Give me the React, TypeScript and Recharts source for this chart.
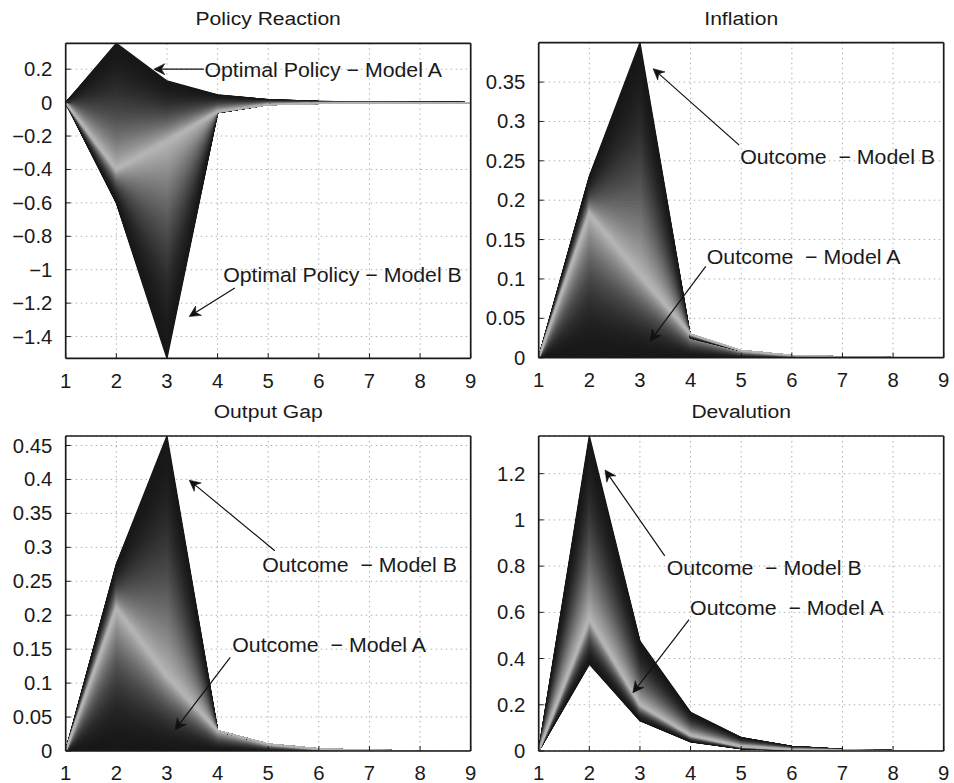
import React from 'react';
import {
  ComposedChart,
  Area,
  XAxis,
  YAxis,
  CartesianGrid,
  ReferenceLine,
  ReferenceDot,
} from 'recharts';

// ---------------------------------------------------------------------------
// Data: horizons and, for every panel, the model A path, the pale middle path
// of the fan and the model B path.
// ---------------------------------------------------------------------------
const periods = [1, 2, 3, 4, 5, 6, 7, 8, 9];

const policyModelA = [0, 0.355, 0.13, 0.046, 0.018, 0.007, 0.003, 0.001, 0];
const policyMiddle = [0, -0.4, -0.23, -0.055, -0.012, -0.004, -0.001, 0, 0];
const policyModelB = [0, -0.6, -1.53, -0.06, -0.012, -0.004, -0.001, 0, 0];
const policyTicks = [-1.4, -1.2, -1, -0.8, -0.6, -0.4, -0.2, 0, 0.2];
const policyRange = [-1.53, 0.355];

const inflationModelA = [0, 0, 0, 0, 0, 0, 0, 0, 0];
const inflationMiddle = [0, 0.183, 0.105, 0.03, 0.009, 0.003, 0.001, 0, 0];
const inflationModelB = [0, 0.23, 0.4, 0.025, 0.009, 0.003, 0.001, 0, 0];
const inflationTicks = [0, 0.05, 0.1, 0.15, 0.2, 0.25, 0.3, 0.35];
const inflationRange = [0, 0.4];

const outputModelA = [0, 0, 0, 0, 0, 0, 0, 0, 0];
const outputMiddle = [0, 0.21, 0.11, 0.03, 0.01, 0.003, 0.001, 0, 0];
const outputModelB = [0, 0.275, 0.464, 0.03, 0.01, 0.003, 0.001, 0, 0];
const outputTicks = [0, 0.05, 0.1, 0.15, 0.2, 0.25, 0.3, 0.35, 0.4, 0.45];
const outputRange = [0, 0.464];

const devalModelA = [0, 0.376, 0.131, 0.04, 0.01, 0.003, 0.001, 0, 0];
const devalMiddle = [0, 0.57, 0.2, 0.068, 0.02, 0.006, 0.002, 0, 0];
const devalModelB = [0, 1.363, 0.475, 0.167, 0.058, 0.02, 0.007, 0.002, 0];
const devalTicks = [0, 0.2, 0.4, 0.6, 0.8, 1, 1.2];
const devalRange = [0, 1.363];

// Arrow annotations: label anchor (left edge, vertical centre), arrow tail, arrow tip
type Note = { text: string; tx: number; ty: number; ax: number; ay: number; hx: number; hy: number };

const policyNotes: Note[] = [
  { text: 'Optimal Policy − Model A', tx: 3.74, ty: 0.2, ax: 3.73, ay: 0.2, hx: 2.74, hy: 0.2 },
  { text: 'Optimal Policy − Model B', tx: 4.11, ty: -1.032, ax: 4.34, ay: -1.11, hx: 3.44, hy: -1.28 },
];
const inflationNotes: Note[] = [
  { text: 'Outcome  − Model B', tx: 4.98, ty: 0.255, ax: 4.96, ay: 0.27, hx: 3.26, hy: 0.367 },
  { text: 'Outcome  − Model A', tx: 4.32, ty: 0.128, ax: 4.3, ay: 0.116, hx: 3.2, hy: 0.021 },
];
const outputNotes: Note[] = [
  { text: 'Outcome  − Model B', tx: 4.88, ty: 0.275, ax: 5.13, ay: 0.295, hx: 3.44, hy: 0.399 },
  { text: 'Outcome  − Model A', tx: 4.29, ty: 0.156, ax: 4.25, ay: 0.138, hx: 3.16, hy: 0.031 },
];
const devalNotes: Note[] = [
  { text: 'Outcome  − Model B', tx: 3.53, ty: 0.792, ax: 3.49, ay: 0.844, hx: 2.31, hy: 1.216 },
  { text: 'Outcome  − Model A', tx: 3.99, ty: 0.62, ax: 3.97, ay: 0.568, hx: 2.86, hy: 0.252 },
];

// ---------------------------------------------------------------------------
// Styling
// ---------------------------------------------------------------------------
const FONT = '"Liberation Sans", Arial, Helvetica, sans-serif';
const INK = '#1a1a1a';
const TICK_FS = 19.5;
const TICK_STRETCH = 1.04;
const NOTE_FS = 20.5;
const NOTE_STRETCH = 1.04;
const TITLE_FS = 19;
const TITLE_STRETCH = 1.11;

const SHADES = 60; // shading steps on each side of the pale middle path
const DARK = 24;
const LIGHT = 182;
const GAMMA = 2;

const fmt = (v: number) => (v < 0 ? '−' + String(Math.abs(v)) : String(v));

function grey(level: number) {
  const g = Math.round(level);
  return `rgb(${g},${g},${g})`;
}

// Builds the chart rows and the list of shaded bands of the fan
function buildFan(a: number[], m: number[], b: number[]) {
  const rows: Record<string, any>[] = periods.map((x) => ({ x }));
  const bands: { key: string; color: string }[] = [];
  const halves = [
    { from: a, to: m, name: 'a' },
    { from: b, to: m, name: 'b' },
  ];
  halves.forEach((h) => {
    for (let k = 0; k < SHADES; k++) {
      const key = `${h.name}${k}`;
      const t0 = k / SHADES;
      const t1 = (k + 1) / SHADES;
      periods.forEach((_, i) => {
        const lo = h.from[i] + (h.to[i] - h.from[i]) * t0;
        const hi = h.from[i] + (h.to[i] - h.from[i]) * t1;
        rows[i][key] = [lo, hi];
      });
      const s = (k + 0.5) / SHADES; // 0 at outer edge, 1 at pale middle
      bands.push({ key, color: grey(DARK + (LIGHT - DARK) * Math.pow(s, GAMMA)) });
    }
  });
  return { rows, bands };
}

function StretchText({ x, y, text, size, stretch, anchor, dy }: any) {
  return (
    <g transform={`translate(${x},${y}) scale(${stretch},1)`}>
      <text
        x={0}
        y={0}
        dy={dy}
        textAnchor={anchor}
        fontFamily={FONT}
        fontSize={size}
        fill={INK}
        style={{ whiteSpace: 'pre' }}
      >
        {text}
      </text>
    </g>
  );
}

const XTick = (props: any) => (
  <StretchText x={props.x} y={props.y} text={String(props.payload.value)} size={TICK_FS} stretch={TICK_STRETCH} anchor="middle" dy="0.71em" />
);
const YTick = (props: any) => (
  <StretchText x={props.x} y={props.y} text={fmt(props.payload.value)} size={TICK_FS} stretch={TICK_STRETCH} anchor="end" dy="0.36em" />
);

function Arrow(props: any) {
  const { x1, y1, x2, y2 } = props;
  const dx = x2 - x1;
  const dy = y2 - y1;
  const len = Math.sqrt(dx * dx + dy * dy) || 1;
  const ux = dx / len;
  const uy = dy / len;
  const nx = -uy;
  const ny = ux;
  const L = 11;
  const HW = 5.5;
  const notch = 3.5;
  const bx = x2 - ux * L;
  const by = y2 - uy * L;
  const cx = x2 - ux * (L - notch);
  const cy = y2 - uy * (L - notch);
  const pts = `${x2},${y2} ${bx + nx * HW},${by + ny * HW} ${cx},${cy} ${bx - nx * HW},${by - ny * HW}`;
  return (
    <g>
      <line x1={x1} y1={y1} x2={cx} y2={cy} stroke="#111" strokeWidth={1.2} />
      <polygon points={pts} fill="#111" stroke="#111" strokeWidth={0.6} />
    </g>
  );
}

const W = 477;
const H = 392;
const PW = 405;
const PH = 315;
const Y_AXIS_W = 50;
const X_AXIS_H = 30;

function FanPanel({ left, top, plotLeft, plotTop, a, m, b, yTicks, yRange, notes }: any) {
  const { rows, bands } = buildFan(a, m, b);
  const margin = {
    left: plotLeft - Y_AXIS_W,
    top: plotTop - 1,
    right: W - plotLeft - PW - 1,
    bottom: H - plotTop - PH - X_AXIS_H,
  };
  const axisLine = { stroke: INK, strokeWidth: 1.7 };
  const tickLine = { stroke: INK, strokeWidth: 1 };
  return (
    <div style={{ position: 'absolute', left, top, width: W, height: H }}>
      <ComposedChart width={W} height={H} data={rows} margin={margin}>
        <CartesianGrid xAxisId="bottom" yAxisId="left" stroke="#b0b0b0" strokeWidth={1} strokeDasharray="1.5 3.5" />
        {bands.map((bd) => (
          <Area
            key={bd.key}
            xAxisId="bottom"
            yAxisId="left"
            type="linear"
            dataKey={bd.key}
            fill={bd.color}
            fillOpacity={1}
            stroke={bd.color}
            strokeWidth={1.3}
            dot={false}
            activeDot={false}
            isAnimationActive={false}
          />
        ))}
        <XAxis
          xAxisId="bottom"
          dataKey="x"
          type="number"
          domain={[1, 9]}
          ticks={periods}
          allowDataOverflow
          height={X_AXIS_H}
          axisLine={axisLine}
          tickLine={tickLine}
          tickSize={-5}
          tickMargin={20.5}
          tick={XTick}
          interval={0}
        />
        <XAxis
          xAxisId="top"
          orientation="top"
          dataKey="x"
          type="number"
          domain={[1, 9]}
          ticks={periods}
          allowDataOverflow
          height={1}
          axisLine={axisLine}
          tickLine={tickLine}
          tickSize={-5}
          tick={false}
          interval={0}
        />
        <YAxis
          yAxisId="left"
          type="number"
          domain={yRange}
          ticks={yTicks}
          allowDataOverflow
          width={Y_AXIS_W}
          axisLine={axisLine}
          tickLine={tickLine}
          tickSize={-5}
          tickMargin={18.4}
          tick={YTick}
          interval={0}
        />
        <YAxis
          yAxisId="right"
          orientation="right"
          type="number"
          domain={yRange}
          ticks={yTicks}
          allowDataOverflow
          width={1}
          axisLine={axisLine}
          tickLine={tickLine}
          tickSize={-5}
          tick={false}
          interval={0}
        />
        {notes.map((n: Note, i: number) => (
          <ReferenceLine
            key={`arrow${i}`}
            xAxisId="bottom"
            yAxisId="left"
            segment={[
              { x: n.ax, y: n.ay },
              { x: n.hx, y: n.hy },
            ]}
            shape={Arrow}
          />
        ))}
        {notes.map((n: Note, i: number) => (
          <ReferenceDot
            key={`note${i}`}
            xAxisId="bottom"
            yAxisId="left"
            x={n.tx}
            y={n.ty}
            r={0}
            shape={(p: any) => (
              <StretchText x={p.cx} y={p.cy} text={n.text} size={NOTE_FS} stretch={NOTE_STRETCH} anchor="start" dy="0.36em" />
            )}
          />
        ))}
      </ComposedChart>
    </div>
  );
}

const titles = [
  { text: 'Policy Reaction', x: 268.2, y: 25 },
  { text: 'Inflation', x: 741.2, y: 25 },
  { text: 'Output Gap', x: 268.2, y: 418 },
  { text: 'Devalution', x: 741.2, y: 418 },
];

export default function App() {
  return (
    <div style={{ position: 'absolute', left: 0, top: 0, width: 954, height: 783, background: '#fff', overflow: 'hidden' }}>
      <FanPanel left={0} top={0} plotLeft={65.7} plotTop={43.3} a={policyModelA} m={policyMiddle} b={policyModelB} yTicks={policyTicks} yRange={policyRange} notes={policyNotes} />
      <FanPanel left={477} top={0} plotLeft={61.7} plotTop={42.7} a={inflationModelA} m={inflationMiddle} b={inflationModelB} yTicks={inflationTicks} yRange={inflationRange} notes={inflationNotes} />
      <FanPanel left={0} top={392} plotLeft={65.7} plotTop={44} a={outputModelA} m={outputMiddle} b={outputModelB} yTicks={outputTicks} yRange={outputRange} notes={outputNotes} />
      <FanPanel left={477} top={392} plotLeft={61.7} plotTop={44} a={devalModelA} m={devalMiddle} b={devalModelB} yTicks={devalTicks} yRange={devalRange} notes={devalNotes} />
      <svg width={954} height={783} style={{ position: 'absolute', left: 0, top: 0, pointerEvents: 'none' }}>
        {titles.map((t) => (
          <StretchText key={t.text} x={t.x} y={t.y} text={t.text} size={TITLE_FS} stretch={TITLE_STRETCH} anchor="middle" dy={0} />
        ))}
      </svg>
    </div>
  );
}
